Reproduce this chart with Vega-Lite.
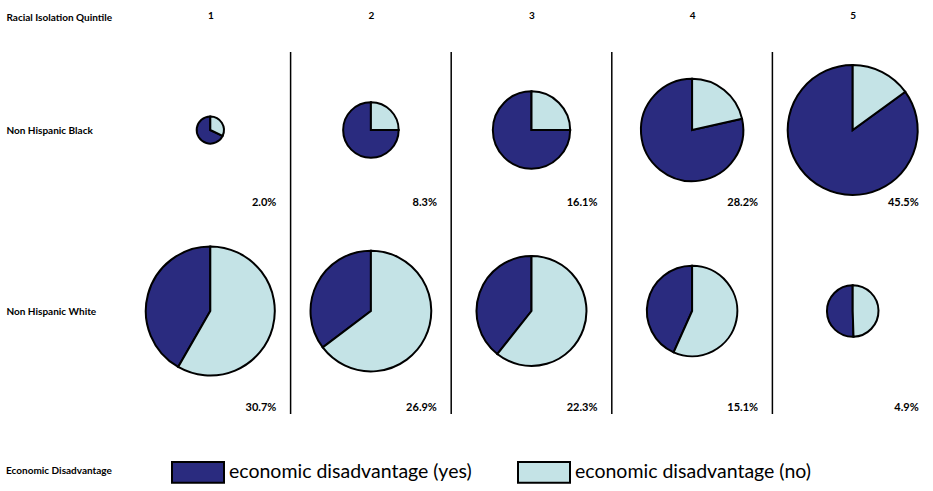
{
  "$schema": "https://vega.github.io/schema/vega-lite/v6.json",
  "width": 803,
  "height": 362,
  "padding": {"left": 6, "top": 10, "right": 0, "bottom": 0},
  "background": "white",
  "config": {
    "view": {"stroke": null},
    "font": "Lato",
    "arc": {"stroke": "black", "strokeWidth": 2}
  },
  "datasets": {
    "pies": [
      {"race": "Non Hispanic Black", "quintile": 1, "pct": 0.020, "cat": "economic disadvantage (yes)", "share": 68},
      {"race": "Non Hispanic Black", "quintile": 1, "pct": 0.020, "cat": "economic disadvantage (no)", "share": 32},
      {"race": "Non Hispanic Black", "quintile": 2, "pct": 0.083, "cat": "economic disadvantage (yes)", "share": 75},
      {"race": "Non Hispanic Black", "quintile": 2, "pct": 0.083, "cat": "economic disadvantage (no)", "share": 25},
      {"race": "Non Hispanic Black", "quintile": 3, "pct": 0.161, "cat": "economic disadvantage (yes)", "share": 75},
      {"race": "Non Hispanic Black", "quintile": 3, "pct": 0.161, "cat": "economic disadvantage (no)", "share": 25},
      {"race": "Non Hispanic Black", "quintile": 4, "pct": 0.282, "cat": "economic disadvantage (yes)", "share": 78.5},
      {"race": "Non Hispanic Black", "quintile": 4, "pct": 0.282, "cat": "economic disadvantage (no)", "share": 21.5},
      {"race": "Non Hispanic Black", "quintile": 5, "pct": 0.455, "cat": "economic disadvantage (yes)", "share": 85},
      {"race": "Non Hispanic Black", "quintile": 5, "pct": 0.455, "cat": "economic disadvantage (no)", "share": 15},
      {"race": "Non Hispanic White", "quintile": 1, "pct": 0.307, "cat": "economic disadvantage (yes)", "share": 41.7},
      {"race": "Non Hispanic White", "quintile": 1, "pct": 0.307, "cat": "economic disadvantage (no)", "share": 58.3},
      {"race": "Non Hispanic White", "quintile": 2, "pct": 0.269, "cat": "economic disadvantage (yes)", "share": 35.3},
      {"race": "Non Hispanic White", "quintile": 2, "pct": 0.269, "cat": "economic disadvantage (no)", "share": 64.7},
      {"race": "Non Hispanic White", "quintile": 3, "pct": 0.223, "cat": "economic disadvantage (yes)", "share": 39.3},
      {"race": "Non Hispanic White", "quintile": 3, "pct": 0.223, "cat": "economic disadvantage (no)", "share": 60.7},
      {"race": "Non Hispanic White", "quintile": 4, "pct": 0.151, "cat": "economic disadvantage (yes)", "share": 43.3},
      {"race": "Non Hispanic White", "quintile": 4, "pct": 0.151, "cat": "economic disadvantage (no)", "share": 56.7},
      {"race": "Non Hispanic White", "quintile": 5, "pct": 0.049, "cat": "economic disadvantage (yes)", "share": 50.5},
      {"race": "Non Hispanic White", "quintile": 5, "pct": 0.049, "cat": "economic disadvantage (no)", "share": 49.5}
    ],
    "seps": [{"sep": 1.5}, {"sep": 2.5}, {"sep": 3.5}, {"sep": 4.5}]
  },
  "layer": [
    {
      "data": {"name": "seps"},
      "mark": {"type": "rule", "color": "black", "strokeWidth": 1.5},
      "encoding": {
        "x": {"field": "sep", "type": "quantitative", "scale": {"domain": [0.5, 5.5]},
          "axis": {"orient": "top", "values": [1, 2, 3, 4, 5], "format": "d", "title": null, "grid": false, "domain": false, "ticks": false,
            "labelPadding": 32, "labelFont": "Lato", "labelFontWeight": "bold", "labelFontSize": 10, "labelColor": "black"}}
      }
    },
    {
      "data": {"name": "pies"},
      "transform": [
        {"filter": "datum.race === 'Non Hispanic Black'"},
        {"stack": "share", "groupby": ["race", "quintile"], "sort": [{"field": "cat", "order": "ascending"}], "as": ["s0", "s1"]}
      ],
      "mark": {"type": "arc"},
      "encoding": {
        "x": {"field": "quintile", "type": "quantitative", "stack": null, "scale": {"domain": [0.5, 5.5]},
          "axis": {"orient": "top", "values": [1, 2, 3, 4, 5], "format": "d", "title": null, "grid": false, "domain": false, "ticks": false,
            "labelPadding": 32, "labelFont": "Lato", "labelFontWeight": "bold", "labelFontSize": 10, "labelColor": "black"}},
        "y": {"field": "race", "type": "nominal",
          "scale": {"type": "point", "domain": ["Non Hispanic Black", "Non Hispanic White"], "padding": 0.5, "align": 0.431},
          "axis": {"orient": "left", "title": "Racial Isolation Quintile", "titleAngle": 0, "titleX": -124, "titleY": -35,
            "titleAlign": "left", "titleBaseline": "middle", "titleFont": "Lato", "titleFontWeight": "bold", "titleFontSize": 10, "titleColor": "black",
            "grid": false, "domain": false, "ticks": false, "labelAlign": "left", "labelPadding": 124, "labelFont": "Lato", "labelFontWeight": "bold",
            "labelFontSize": 10, "labelColor": "black"}},
        "theta": {"field": "s0", "type": "quantitative", "stack": null, "scale": {"domain": [0, 100]}},
        "theta2": {"field": "s1"},
        "radius": {"field": "pct", "type": "quantitative", "stack": null, "scale": {"type": "sqrt", "domain": [0, 0.455], "range": [0, 65], "zero": true}, "legend": null},
        "color": {"field": "cat", "type": "nominal",
          "scale": {"domain": ["economic disadvantage (yes)", "economic disadvantage (no)"], "range": ["#2a2b7f", "#c4e3e6"]},
          "legend": {"orient": "none", "legendX": -124, "legendY": 393, "direction": "horizontal", "title": "Economic Disadvantage",
            "titleOrient": "left", "titleAnchor": "middle", "titleBaseline": "top", "titleFont": "Lato", "titleFontWeight": "bold", "titleFontSize": 10, "titleColor": "black", "titlePadding": 59,
            "labelFont": "Lato", "labelFontSize": 19.5, "labelColor": "black", "labelOffset": 4, "labelLimit": 400, "columnPadding": 42,
            "symbolType": "M-1,-0.4H1V0.4H-1Z", "symbolSize": 2704, "symbolStrokeColor": "black", "symbolStrokeWidth": 1.5, "symbolOpacity": 1}}
      }
    },
    {
      "data": {"name": "pies"},
      "transform": [
        {"filter": "datum.race === 'Non Hispanic White'"},
        {"stack": "share", "groupby": ["race", "quintile"], "sort": [{"field": "cat", "order": "ascending"}], "as": ["s0", "s1"]}
      ],
      "mark": {"type": "arc"},
      "encoding": {
        "x": {"field": "quintile", "type": "quantitative", "stack": null, "scale": {"domain": [0.5, 5.5]}},
        "y": {"field": "race", "type": "nominal"},
        "theta": {"field": "s0", "type": "quantitative", "stack": null, "scale": {"domain": [0, 100]}},
        "theta2": {"field": "s1"},
        "radius": {"field": "pct", "type": "quantitative", "stack": null, "scale": {"type": "sqrt", "domain": [0, 0.307], "range": [0, 64.5], "zero": true}, "legend": null},
        "color": {"field": "cat", "type": "nominal"}
      }
    },
    {
      "data": {"name": "pies"},
      "transform": [{"filter": "datum.race === 'Non Hispanic Black' && datum.cat === 'economic disadvantage (yes)'"}],
      "mark": {"type": "text", "align": "right", "baseline": "middle", "dx": 66, "dy": 73, "font": "Lato", "fontWeight": "bold", "fontSize": 11, "color": "black"},
      "encoding": {
        "x": {"field": "quintile", "type": "quantitative", "stack": null},
        "y": {"field": "race", "type": "nominal"},
        "text": {"field": "pct", "type": "quantitative", "format": ".1%"}
      }
    },
    {
      "data": {"name": "pies"},
      "transform": [{"filter": "datum.race === 'Non Hispanic White' && datum.cat === 'economic disadvantage (yes)'"}],
      "mark": {"type": "text", "align": "right", "baseline": "middle", "dx": 66, "dy": 97, "font": "Lato", "fontWeight": "bold", "fontSize": 11, "color": "black"},
      "encoding": {
        "x": {"field": "quintile", "type": "quantitative", "stack": null},
        "y": {"field": "race", "type": "nominal"},
        "text": {"field": "pct", "type": "quantitative", "format": ".1%"}
      }
    }
  ],
  "resolve": {"scale": {"radius": "independent"}}
}
